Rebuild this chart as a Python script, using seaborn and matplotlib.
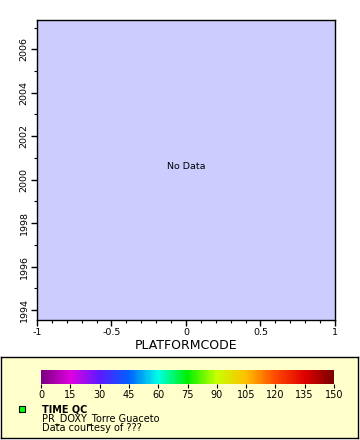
import matplotlib
matplotlib.use("Agg")
import matplotlib.pyplot as plt
import matplotlib.ticker as mticker
import matplotlib.colors as mcolors
import matplotlib.cm as cm
import pandas as pd
import seaborn as sns

# Data (the query returned nothing)
platformcode = []
time_year = []
time_qc = []

# Colour scale for TIME QC
qc_ticks = [0, 15, 30, 45, 60, 75, 90, 105, 120, 135, 150]
qc_colors = ["#7a0080", "#e000e0", "#5a1aff", "#0060ff", "#00ffe6",
             "#00f000", "#c8ff00", "#ffc000", "#ff4a00", "#e00000", "#7a0000"]

legend_title = "TIME QC"
legend_lines = ["PR_DOXY_Torre Guaceto", "Data courtesy of ???"]

df = pd.DataFrame({"PLATFORMCODE": platformcode, "TIME": time_year, "QC": time_qc})

sns.set_style("ticks")
plt.rcParams["font.family"] = ["DejaVu Sans"]
plt.rcParams.update({"text.color": "black", "axes.labelcolor": "black",
                     "xtick.color": "black", "ytick.color": "black"})

W, H = 360, 440
fig = plt.figure(figsize=(W / 100, H / 100), dpi=100)

def box(x0, y0, x1, y1):
    return [x0 / W, 1 - y1 / H, (x1 - x0) / W, (y1 - y0) / H]

ax = fig.add_axes(box(37, 20, 335, 320))
ax.set_facecolor("#ccccff")
sns.scatterplot(data=df, x="PLATFORMCODE", y="TIME", ax=ax)

ax.set_xlim(-1, 1)
ax.set_ylim(1993.54, 2007.35)
ax.xaxis.set_major_locator(mticker.MultipleLocator(0.5))
ax.xaxis.set_minor_locator(mticker.MultipleLocator(0.1))
ax.yaxis.set_major_locator(mticker.MultipleLocator(2))
ax.yaxis.set_minor_locator(mticker.MultipleLocator(1))
ax.xaxis.set_major_formatter(mticker.FuncFormatter(lambda v, p: f"{v:g}"))
ax.tick_params(which="major", length=4, width=1, labelsize=6.8, pad=2, color="black")
ax.tick_params(which="minor", length=2, width=0.8, color="black")
for lbl in ax.get_yticklabels():
    lbl.set_rotation(90)
    lbl.set_va("center")
for s in ax.spines.values():
    s.set_color("black")
    s.set_linewidth(1)
ax.set_xlabel("PLATFORMCODE", fontsize=9, labelpad=1)
ax.set_ylabel("")
ax.text(0, 2000.6, "No Data", ha="center", va="center", fontsize=6.8)

# Legend panel
lax = fig.add_axes(box(1, 357, 358, 438))
lax.set_facecolor("#ffffcc")
lax.set_xlim(0, 357)
lax.set_ylim(81, 0)
lax.set_xticks([])
lax.set_yticks([])
for s in lax.spines.values():
    s.set_color("black")
    s.set_linewidth(1)
lax.scatter([21], [52], marker="s", s=14, color="#00ff00",
            edgecolor="black", linewidth=0.8)
lax.text(41, 52, legend_title, fontsize=7, fontweight="bold", va="center")
lax.text(41, 61.5, legend_lines[0], fontsize=7, va="center")
lax.text(41, 71, legend_lines[1], fontsize=7, va="center")

cax = fig.add_axes(box(41, 370, 334, 384))
cmap = mcolors.LinearSegmentedColormap.from_list("qc", qc_colors)
norm = mcolors.Normalize(vmin=qc_ticks[0], vmax=qc_ticks[-1])
cb = fig.colorbar(cm.ScalarMappable(norm=norm, cmap=cmap), cax=cax,
                  orientation="horizontal", ticks=qc_ticks)
cb.outline.set_visible(False)
cax.tick_params(length=3, width=0.8, labelsize=7, pad=1, color="black")

fig.savefig("out.png", dpi=100)
